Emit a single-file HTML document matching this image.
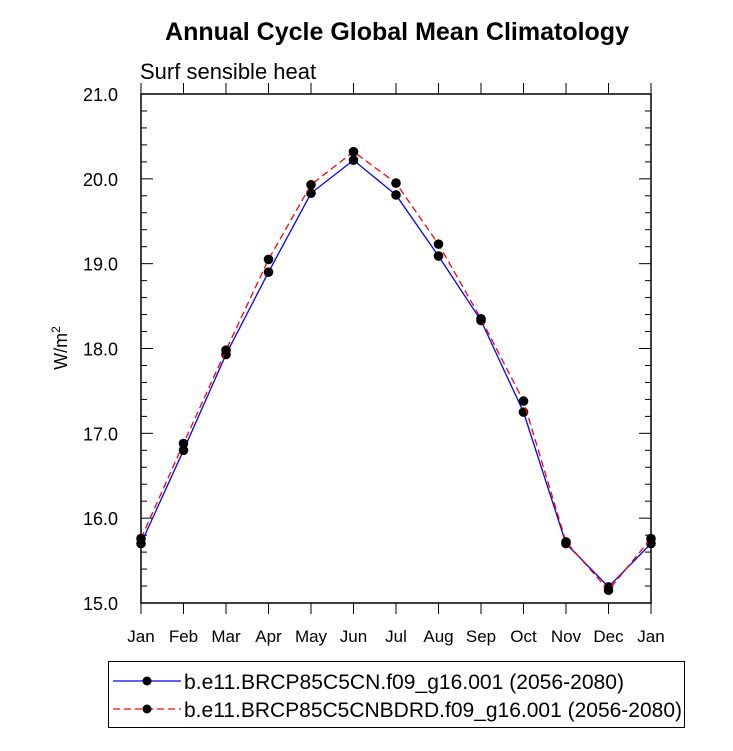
<!DOCTYPE html>
<html><head><meta charset="utf-8"><style>body{margin:0;background:#fff}svg{display:block;font-family:"Liberation Sans",sans-serif}</style></head>
<body>
<svg id="c" width="733" height="751">
<text x="397" y="40" text-anchor="middle" font-size="25" font-weight="bold">Annual Cycle Global Mean Climatology</text>
<text x="140" y="79" font-size="22">Surf sensible heat</text>
<text transform="translate(67,348) rotate(-90)" text-anchor="middle" font-size="18">W/m<tspan dy="-7" font-size="12">2</tspan></text>
<g id="axes"></g><g id="series"></g>
<g>
<rect x="108.5" y="661.5" width="576" height="66" fill="none" stroke="#000"/>
<g><line x1="113" y1="681" x2="181" y2="681" stroke="#00f" stroke-width="1.3"/><circle cx="147" cy="681" r="4.5"/><text x="184" y="689" font-size="21" textLength="440" lengthAdjust="spacingAndGlyphs">b.e11.BRCP85C5CN.f09_g16.001 (2056-2080)</text></g>
<g><line x1="113" y1="709" x2="181" y2="709" stroke="#f00" stroke-width="1.3" stroke-dasharray="7,4"/><circle cx="147" cy="709" r="4.5"/><text x="184" y="717" font-size="21" textLength="498" lengthAdjust="spacingAndGlyphs">b.e11.BRCP85C5CNBDRD.f09_g16.001 (2056-2080)</text></g>
</g>
</svg>
<script>
const months=["Jan","Feb","Mar","Apr","May","Jun","Jul","Aug","Sep","Oct","Nov","Dec","Jan"];
const seriesBase=[15.70,16.80,17.93,18.90,19.83,20.22,19.81,19.09,18.33,17.25,15.70,15.19,15.70];
const seriesBdrd=[15.76,16.88,17.98,19.05,19.93,20.32,19.95,19.23,18.35,17.38,15.72,15.15,15.76];
const yTicks=["15.0","16.0","17.0","18.0","19.0","20.0","21.0"];
const NS="http://www.w3.org/2000/svg";
const L=141,R=651,T=94,B=603,ymin=15,ymax=21;
const xs=i=>L+(R-L)*i/(months.length-1);
const ys=v=>B-(v-ymin)/(ymax-ymin)*(B-T);
function mk(tag,attrs,parent){const e=document.createElementNS(NS,tag);for(const k in attrs)e.setAttribute(k,attrs[k]);parent.appendChild(e);return e;}
const ax=document.getElementById('axes');
const fr=mk('rect',{x:L,y:T,width:R-L,height:B-T,fill:'none',stroke:'#000','stroke-width':1.5},ax);


for(let v=ymin;v<=ymax+1e-9;v+=0.2){const y=ys(v);const maj=Math.abs(v-Math.round(v))<1e-6;const len=maj?12:6;
mk('line',{x1:L,y1:y,x2:L+len,y2:y,stroke:'#000'},ax);mk('line',{x1:R,y1:y,x2:R-len,y2:y,stroke:'#000'},ax);}
yTicks.forEach(t=>{const tx=mk('text',{x:118,y:ys(+t)+7,'text-anchor':'end','font-size':18},ax);tx.textContent=t;

});
months.forEach((m,i)=>{const x=xs(i);mk('line',{x1:x,y1:B,x2:x,y2:B+11,stroke:'#000'},ax);mk('line',{x1:x,y1:T,x2:x,y2:T-11,stroke:'#000'},ax);
const tx=mk('text',{x:x,y:642,'text-anchor':'middle','font-size':17},ax);tx.textContent=m;

});
const sg=document.getElementById('series');
function draw(data,color,dash,name){const g=mk('g',{},sg);


mk('polyline',{points:data.map((v,i)=>xs(i)+','+ys(v)).join(' '),fill:'none',stroke:color,'stroke-width':1.3,'stroke-dasharray':dash},g);
data.forEach((v,i)=>{const c=mk('circle',{cx:xs(i),cy:ys(v),r:4.8,fill:'#000'},g);

});}
draw(seriesBase,'#00f','none','series-base');
draw(seriesBdrd,'#f00','7,4','series-bdrd');
</script>
</body></html>
